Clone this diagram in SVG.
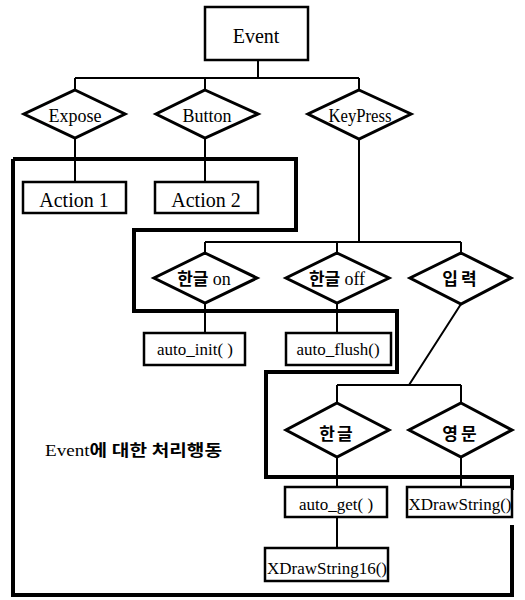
<svg xmlns="http://www.w3.org/2000/svg" width="525" height="600" viewBox="0 0 525 600">
  <style>
    .box { fill: #fff; stroke: #000; stroke-width: 2.5; }
    .dia { fill: #fff; stroke: #000; stroke-width: 3; stroke-linejoin: miter; }
    .wire { fill: none; stroke: #000; stroke-width: 2; }
    .frame { fill: none; stroke: #000; stroke-width: 4; stroke-linejoin: miter; }
    text { font-family: "Liberation Serif", "Noto Sans CJK KR", serif; fill: #000; text-anchor: middle; }
    .ko { font-weight: bold; }
    .left { text-anchor: start; }
  </style>
  <rect width="525" height="600" fill="#fff"/>

  <!-- connectors -->
  <g id="connectors">
    <path class="wire" d="M258,60 V78 M75,78 H359 M75,78 V90 M205,78 V90 M359,78 V90"/>
    <path class="wire" d="M75,138 V182 M205,138 V182"/>
    <path class="wire" d="M359,139 V242 M205,242 H461 M205,242 V253 M337,242 V253 M461,242 V253"/>
    <path class="wire" d="M205,303 V333 M337,303 V333"/>
    <path class="wire" d="M461,304 L409,385 M337,385 H461 M337,385 V403 M461,385 V403"/>
    <path class="wire" d="M337,457 V487 M461,457 V487 M337,517 V548"/>
  </g>

  <!-- grouping frame around the event handling actions -->
  <g id="frame">
    <path class="frame" d="M13,159 H296 V230 H134 V311 H397 V372 H266 V477 H512 V490"/>
    <path class="frame" d="M512,525 V595 H13 V159"/>
  </g>

  <g id="event">
    <rect class="box" x="205" y="7" width="103" height="53"/>
    <text x="256" y="43" font-size="20">Event</text>
  </g>

  <g id="expose">
    <polygon class="dia" points="75,90 125,114 75,138 24,114"/>
    <text x="75" y="122" font-size="18">Expose</text>
  </g>
  <g id="button">
    <polygon class="dia" points="205,90 258,114 205,138 156,114"/>
    <text x="207" y="122" font-size="18">Button</text>
  </g>
  <g id="keypress">
    <polygon class="dia" points="359,90 411,114 359,139 308,114"/>
    <text x="360" y="122" font-size="18" textLength="63" lengthAdjust="spacingAndGlyphs">KeyPress</text>
  </g>

  <g id="action1">
    <rect class="box" x="23" y="182" width="103" height="31"/>
    <text x="74" y="207" font-size="20">Action 1</text>
  </g>
  <g id="action2">
    <rect class="box" x="155" y="182" width="103" height="31"/>
    <text x="206" y="207" font-size="20">Action 2</text>
  </g>

  <g id="hangul-on">
    <polygon class="dia" points="205,253 257,278 205,303 154,278"/>
    <text class="ko" x="204" y="285" font-size="17">한글 <tspan font-weight="normal" font-size="18">on</tspan></text>
  </g>
  <g id="hangul-off">
    <polygon class="dia" points="337,253 389,278 337,303 286,278"/>
    <text class="ko" x="337" y="285" font-size="17">한글 <tspan font-weight="normal" font-size="18">off</tspan></text>
  </g>
  <g id="input">
    <polygon class="dia" points="461,253 511,278 461,304 410,278"/>
    <text class="ko" x="461" y="285" font-size="17" letter-spacing="3">입력</text>
  </g>

  <g id="auto-init">
    <rect class="box" x="144" y="333" width="101" height="32"/>
    <text x="195" y="355" font-size="17">auto_init( )</text>
  </g>
  <g id="auto-flush">
    <rect class="box" x="286" y="333" width="105" height="32"/>
    <text x="338" y="355" font-size="17">auto_flush()</text>
  </g>

  <g id="hangul">
    <polygon class="dia" points="337,403 389,430 337,457 286,430"/>
    <text class="ko" x="337" y="440" font-size="17" letter-spacing="2">한글</text>
  </g>
  <g id="english">
    <polygon class="dia" points="461,403 512,430 461,457 409,430"/>
    <text class="ko" x="461" y="440" font-size="17" letter-spacing="3">영문</text>
  </g>

  <g id="auto-get">
    <rect class="box" x="285" y="487" width="102" height="30"/>
    <text x="336" y="510" font-size="17">auto_get( )</text>
  </g>
  <g id="xdrawstring">
    <rect class="box" x="407" y="487" width="105" height="30"/>
    <text x="460" y="510" font-size="17">XDrawString()</text>
  </g>
  <g id="xdrawstring16">
    <rect class="box" x="265" y="548" width="123" height="33"/>
    <text x="327" y="574" font-size="17">XDrawString16()</text>
  </g>

  <g id="caption">
    <text class="ko left" x="45" y="456" font-size="16" textLength="177" lengthAdjust="spacingAndGlyphs"><tspan font-weight="normal">Event</tspan>에 대한 처리행동</text>
  </g>
</svg>
